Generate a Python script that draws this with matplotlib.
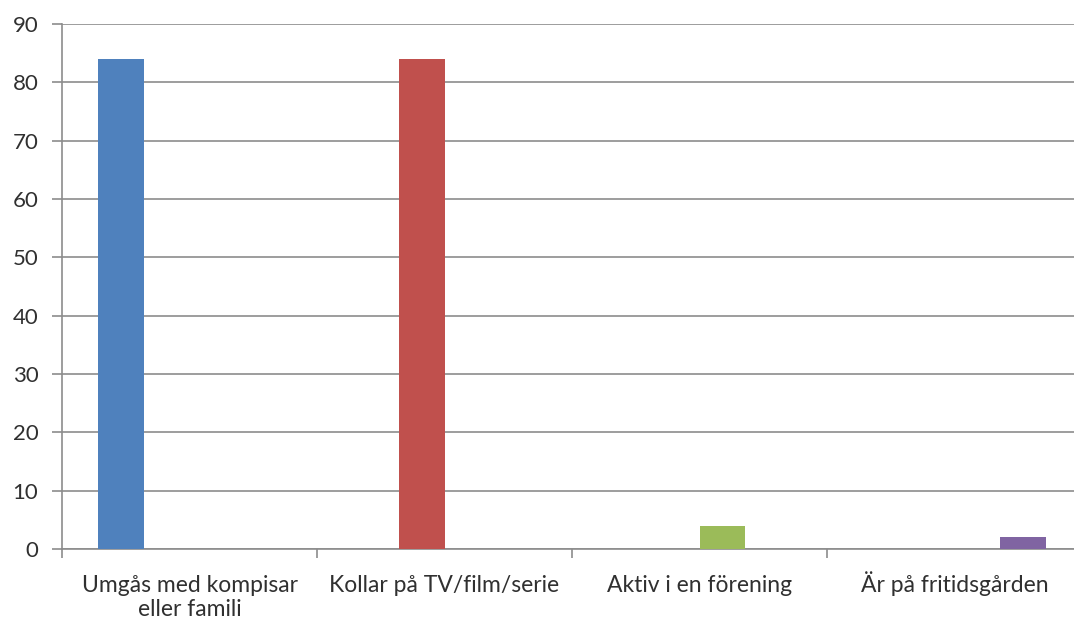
import numpy as np
import matplotlib
matplotlib.use("Agg")
import matplotlib.pyplot as plt
import matplotlib.transforms as mtrans

# data
categories = ["Umgås med kompisar\neller famili", "Kollar på TV/film/serie",
              "Aktiv i en förening", "Är på fritidsgården"]
values = [84, 84, 4, 2]
colors = ["#4F81BD", "#C0504D", "#9BBB59", "#8064A2"]
yticks = [0, 10, 20, 30, 40, 50, 60, 70, 80, 90]

plt.rcParams['font.family'] = ['Lato', 'DejaVu Sans']

W, H = 1074, 622
fig = plt.figure(figsize=(W / 100, H / 100), dpi=100)
# axes from x=62 to the right edge, y from 24 to 549 (pixels)
ax = fig.add_axes([62 / W, 1 - 549 / H, 1 - 62 / W, (549 - 24) / H])

# Excel-style clustered bars: each series sits in its own slot in the cluster
n = len(categories)
x = np.arange(n)
gap = 36 / 255          # space at each side of a cluster, as fraction of category
bw = (1 - 2 * gap) / n  # width of one bar
for j in range(n):
    off = -0.5 + gap + (j + 0.5) * bw
    ax.bar(x[j] + off, values[j], width=bw, color=colors[j], zorder=3)

ax.set_ylim(0, 90)
ax.set_xlim(-0.5, (W - 62) / 255 - 0.5)
ax.set_yticks(yticks)
ax.yaxis.grid(True, color="#8c8c8c", linewidth=1.2, zorder=0)

# category labels: each line placed on its own baseline, like Excel does
ax.set_xticks(x)
ax.set_xticklabels([])
ax.tick_params(axis="x", which="major", length=0)
ax.set_xticks(np.arange(n) - 0.5, minor=True)
ax.tick_params(axis="x", which="minor", length=6.5, width=1.2, color="#8c8c8c")
trans = mtrans.blended_transform_factory(ax.transData, ax.transAxes)
ax_h = 549 - 24
for i, lab in enumerate(categories):
    for k, line in enumerate(lab.split("\n")):
        ypx = 43 + k * 24   # pixels below the axis to the baseline
        ax.text(x[i], -ypx / ax_h, line, transform=trans, ha="center",
                va="baseline", fontsize=16.5, color="#303030", clip_on=False)

ax.tick_params(axis="y", length=7, width=1.2, color="#8c8c8c", pad=10,
               labelsize=16, labelcolor="#303030")

for s in ["top", "right"]:
    ax.spines[s].set_visible(False)
for s in ["left", "bottom"]:
    ax.spines[s].set_color("#8c8c8c")
    ax.spines[s].set_linewidth(1.2)

fig.savefig("out.png", dpi=100, facecolor="white")
